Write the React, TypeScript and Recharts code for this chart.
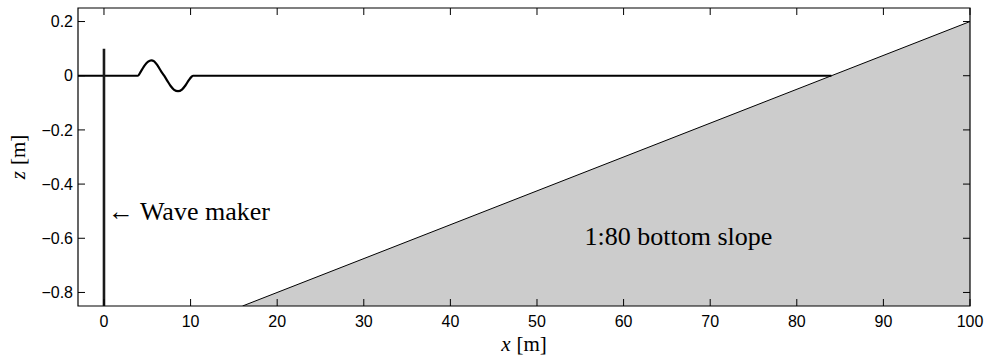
import React from 'react';
import { ComposedChart, Line, Area, XAxis, YAxis, ReferenceDot, ReferenceArea } from 'recharts';

// Axis extents and tick positions
const xDomain: [number, number] = [-3, 100];
const zDomain: [number, number] = [-0.85, 0.25];
const xTicks = [0, 10, 20, 30, 40, 50, 60, 70, 80, 90, 100];
const zTicks = [0.2, 0, -0.2, -0.4, -0.6, -0.8];

// Free surface elevation along the flume, with the generated wave packet
const surface = [
  { x: -3, z: 0 },
  { x: 3.9, z: 0 },
  { x: 4.3, z: 0.018 },
  { x: 4.7, z: 0.038 },
  { x: 5.1, z: 0.052 },
  { x: 5.45, z: 0.057 },
  { x: 5.8, z: 0.053 },
  { x: 6.2, z: 0.037 },
  { x: 6.6, z: 0.016 },
  { x: 6.95, z: 0 },
  { x: 7.3, z: -0.018 },
  { x: 7.7, z: -0.038 },
  { x: 8.1, z: -0.052 },
  { x: 8.55, z: -0.057 },
  { x: 9.0, z: -0.051 },
  { x: 9.4, z: -0.036 },
  { x: 9.8, z: -0.016 },
  { x: 10.1, z: -0.004 },
  { x: 10.3, z: 0 },
  { x: 84, z: 0 },
];

// Paddle of the wave maker
const waveMaker = [
  { x: 0, z: 0.1 },
  { x: 0, z: -0.85 },
];

// 1:80 sloping bottom
const bottom = [
  { x: 16, z: -0.85 },
  { x: 100, z: 0.2 },
];

// Text annotations (anchor at left edge, vertical centre)
const annotations = [
  { text: '\u2190 Wave maker', x: 0.45, z: -0.5 },
  { text: '1:80 bottom slope', x: 55.5, z: -0.595 },
];

// Layout
const CHART_W = 987;
const CHART_H = 358;
const MARGIN = { top: 8, right: 17, bottom: 0, left: 0 };
const Y_AXIS_W = 78;
const X_AXIS_H = 52;
const PLOT_TOP = MARGIN.top;
const PLOT_BOTTOM = CHART_H - MARGIN.bottom - X_AXIS_H;
const PLOT_LEFT = MARGIN.left + Y_AXIS_W;
const PLOT_RIGHT = CHART_W - MARGIN.right;
const TICK_LEN = 7;

const serif = '"Liberation Serif", "Times New Roman", serif';
const sans = '"Liberation Sans", Arial, Helvetica, sans-serif';

const fmtZ = (v: number) => (v < 0 ? '\u2212' + String(Math.abs(v)) : String(v));

// Bottom tick: inward tick marks on bottom and top edges plus the label
const XTick = (props: any) => {
  const { x, payload } = props;
  return (
    <g>
      <line x1={x} x2={x} y1={PLOT_BOTTOM} y2={PLOT_BOTTOM - TICK_LEN} stroke="#000" strokeWidth={1} />
      <line x1={x} x2={x} y1={PLOT_TOP} y2={PLOT_TOP + TICK_LEN} stroke="#000" strokeWidth={1} />
      <text x={x} y={PLOT_BOTTOM + 21} textAnchor="middle" fontFamily={sans} fontSize={16} fill="#000">
        {String(payload.value)}
      </text>
    </g>
  );
};

// Left tick: inward tick marks on left and right edges plus the label
const ZTick = (props: any) => {
  const { y, payload } = props;
  return (
    <g>
      <line x1={PLOT_LEFT} x2={PLOT_LEFT + TICK_LEN} y1={y} y2={y} stroke="#000" strokeWidth={1} />
      <line x1={PLOT_RIGHT} x2={PLOT_RIGHT - TICK_LEN} y1={y} y2={y} stroke="#000" strokeWidth={1} />
      <text x={PLOT_LEFT - 5} y={y} dy="0.36em" textAnchor="end" fontFamily={sans} fontSize={16} fill="#000">
        {fmtZ(payload.value)}
      </text>
    </g>
  );
};

export default function App() {
  return (
    <div style={{ position: 'absolute', left: 0, top: 0, background: '#fff' }}>
      <ComposedChart width={CHART_W} height={CHART_H} margin={MARGIN}>
        <XAxis
          dataKey="x"
          type="number"
          domain={xDomain}
          ticks={xTicks}
          interval={0}
          allowDataOverflow
          height={X_AXIS_H}
          axisLine={false}
          tickLine={false}
          tick={<XTick />}
          label={{
            position: 'bottom',
            content: (props: any) => {
              const vb = props.viewBox || {};
              const cx = vb.x + vb.width / 2;
              return (
                <text x={cx} y={351} textAnchor="middle" fontFamily={serif} fontSize={21} fill="#000">
                  <tspan fontStyle="italic">x</tspan>
                  <tspan dx={6}>[m]</tspan>
                </text>
              );
            },
          }}
        />
        <YAxis
          dataKey="z"
          type="number"
          domain={zDomain}
          ticks={zTicks}
          interval={0}
          allowDataOverflow
          width={Y_AXIS_W}
          axisLine={false}
          tickLine={false}
          tick={<ZTick />}
          label={{
            position: 'left',
            content: (props: any) => {
              const vb = props.viewBox || {};
              const cy = vb.y + vb.height / 2;
              return (
                <text
                  x={25}
                  y={cy}
                  transform={`rotate(-90, 25, ${cy})`}
                  textAnchor="middle"
                  fontFamily={serif}
                  fontSize={21}
                  fill="#000"
                >
                  <tspan fontStyle="italic">z</tspan>
                  <tspan dx={6}>[m]</tspan>
                </text>
              );
            },
          }}
        />

        <Line
          data={surface}
          dataKey="z"
          type="monotone"
          stroke="#000"
          strokeWidth={2.2}
          dot={false}
          isAnimationActive={false}
        />
        <Area
          data={bottom}
          dataKey="z"
          type="linear"
          baseValue="dataMin"
          stroke="#000"
          strokeWidth={1}
          fill="#cccccc"
          fillOpacity={1}
          isAnimationActive={false}
        />
        <Line
          data={waveMaker}
          dataKey="z"
          type="linear"
          stroke="#1a1a1a"
          strokeWidth={2.6}
          dot={false}
          isAnimationActive={false}
        />

        {/* plot frame */}
        <ReferenceArea
          x1={xDomain[0]}
          x2={xDomain[1]}
          y1={zDomain[0]}
          y2={zDomain[1]}
          fill="none"
          fillOpacity={0}
          stroke="#000"
          strokeWidth={1.2}
          strokeOpacity={1}
          ifOverflow="visible"
        />

        {annotations.map((a) => (
          <ReferenceDot
            key={a.text}
            x={a.x}
            y={a.z}
            r={0}
            fill="none"
            stroke="none"
            label={{
              content: (props: any) => {
                const vb = props.viewBox || {};
                return (
                  <text
                    x={vb.x}
                    y={vb.y}
                    dy="0.33em"
                    textAnchor="start"
                    fontFamily={serif}
                    fontSize={26}
                    fill="#000"
                  >
                    {a.text}
                  </text>
                );
              },
            }}
          />
        ))}
      </ComposedChart>
    </div>
  );
}
